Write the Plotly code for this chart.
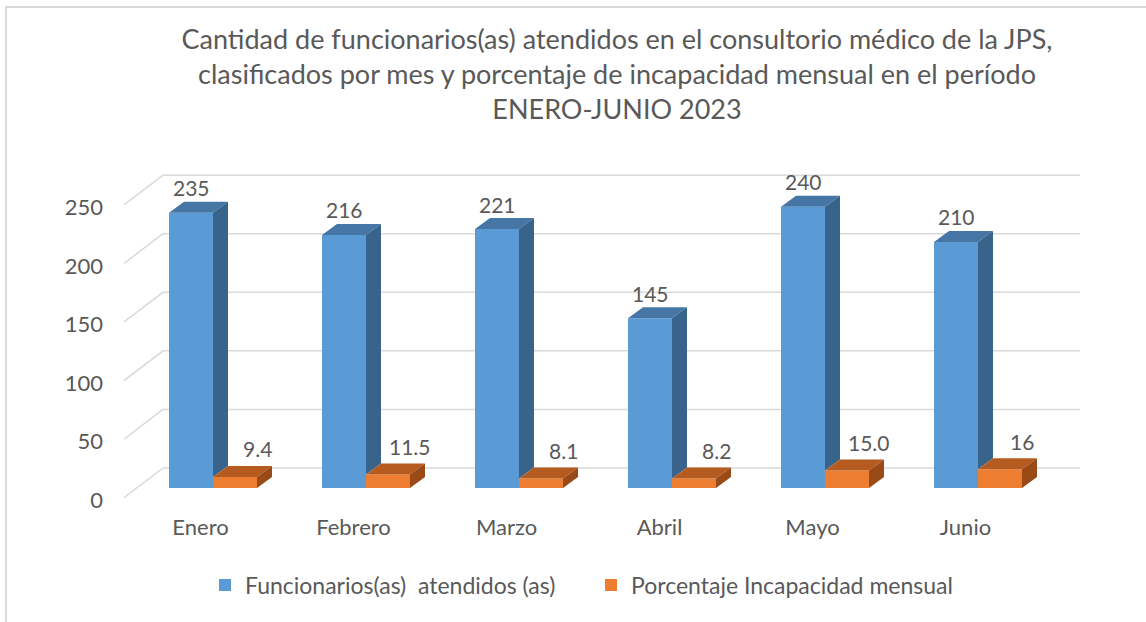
import plotly.graph_objects as go

# ---------------- data ----------------
months = ["Enero", "Febrero", "Marzo", "Abril", "Mayo", "Junio"]
attended = [235, 216, 221, 145, 240, 210]
pct_incap = [9.4, 11.5, 8.1, 8.2, 15.0, 16]
pct_labels = ["9.4", "11.5", "8.1", "8.2", "15.0", "16"]
y_ticks = [0, 50, 100, 150, 200, 250]
series_names = ["Funcionarios(as)\u00a0\u00a0atendidos (as)", "Porcentaje Incapacidad mensual"]
title_text = ("Cantidad de funcionarios(as) atendidos en el consultorio médico de la JPS,<br>"
              "clasificados por mes y porcentaje de incapacidad mensual en el período<br>"
              "ENERO-JUNIO 2023")

# ---------------- styling / geometry ----------------
W, H = 1146, 622
PLOT_BOTTOM = 509
ML, MR, MT, MB = 124, 56, 150, H - PLOT_BOTTOM
plot_w = W - ML - MR
plot_h = H - MT - MB
cat_px = 153.0            # pixels per category
y_px = 1.1715             # pixels per unit
BASE_PX = 488             # pixel row of the bars' base
x_range = [-0.5, -0.5 + plot_w / cat_px]
y_min = -(PLOT_BOTTOM - BASE_PX) / y_px
y_range = [y_min, y_min + plot_h / y_px]

BAR_OFF = 12.5 / cat_px     # bar plane offset from front plane
BW = 44 / cat_px            # bar width
DX = 15 / cat_px            # bar depth (x)
DY = 11 / y_px              # bar depth (y)
BACK_DX = 39 / cat_px
BACK_DY = 20 / y_px
FRONT_DY = 9.7 / y_px
TICK_DY = 2.5 / y_px
X_END = (1080 - ML) / cat_px - 0.5

TXT = "#595959"
GRID = "#d9d9d9"
FONT = "Lato"
BLUE, BLUE_TOP, BLUE_SIDE = "#5b9bd5", "#4676a5", "#38638a"
ORG, ORG_TOP, ORG_SIDE = "#ed7d31", "#b65b20", "#9a4a17"

fig = go.Figure()

idx = list(range(len(months)))
blue_x = [i + BAR_OFF - BW / 2 for i in idx]
org_x = [i + BAR_OFF + BW / 2 for i in idx]

fig.add_trace(go.Bar(x=blue_x, y=attended, width=BW, name=series_names[0],
                     marker=dict(color=BLUE, line=dict(width=0)), hoverinfo="skip"))
fig.add_trace(go.Bar(x=org_x, y=pct_incap, width=BW, name=series_names[1],
                     marker=dict(color=ORG, line=dict(width=0)), hoverinfo="skip"))


def poly(xs, ys, color):
    fig.add_trace(go.Scatter(x=xs + [xs[0]], y=ys + [ys[0]], fill="toself", fillcolor=color,
                             mode="lines", line=dict(width=0, color=color),
                             showlegend=False, hoverinfo="skip"))


for i, b, o in zip(idx, attended, pct_incap):
    c = i + BAR_OFF
    l = c - BW
    r = c
    # blue top
    poly([l, r, r + DX, l + DX], [b, b, b + DY, b + DY], BLUE_TOP)
    # blue side (visible part above the orange bar)
    poly([r, r + DX, r + DX, r], [o, o + DY, b + DY, b], BLUE_SIDE)
    # orange top
    poly([r, r + BW, r + BW + DX, r + DX], [o, o, o + DY, o + DY], ORG_TOP)
    # orange side
    poly([r + BW, r + BW + DX, r + BW + DX, r + BW], [0, DY, o + DY, o], ORG_SIDE)

# gridlines (back wall + floor diagonals)
shapes = []
for v in y_ticks:
    shapes.append(dict(type="line", xref="x", yref="y", layer="below",
                       x0=-0.5 + BACK_DX, y0=v + BACK_DY, x1=X_END, y1=v + BACK_DY,
                       line=dict(color=GRID, width=1.5)))
    shapes.append(dict(type="line", xref="x", yref="y", layer="below",
                       x0=-0.5, y0=v - FRONT_DY, x1=-0.5 + BACK_DX, y1=v + BACK_DY,
                       line=dict(color=GRID, width=1.5)))


def px_to_paper_x(px):
    return (px - ML) / plot_w


def px_to_paper_y(py):
    return (H - MB - py) / plot_h


# chart frame (top and left)
shapes.append(dict(type="line", xref="paper", yref="paper", layer="below",
                   x0=px_to_paper_x(5), y0=px_to_paper_y(7), x1=px_to_paper_x(W + 5), y1=px_to_paper_y(7),
                   line=dict(color=GRID, width=2)))
shapes.append(dict(type="line", xref="paper", yref="paper", layer="below",
                   x0=px_to_paper_x(6), y0=px_to_paper_y(7), x1=px_to_paper_x(6), y1=px_to_paper_y(H + 5),
                   line=dict(color=GRID, width=2)))

annotations = []
for i, b in zip(idx, attended):
    annotations.append(dict(x=i + BAR_OFF - BW / 2, y=b + DY, xref="x", yref="y", text=str(b),
                            showarrow=False, yanchor="middle", yshift=14,
                            font=dict(family=FONT, size=21, color=TXT)))
for i, o, t in zip(idx, pct_incap, pct_labels):
    annotations.append(dict(x=i + BAR_OFF + BW / 2, y=o + DY, xref="x", yref="y", text=t,
                            showarrow=False, yanchor="middle", yshift=17, xshift=22,
                            font=dict(family=FONT, size=21, color=TXT)))

fig.update_layout(
    width=W, height=H,
    margin=dict(l=ML, r=MR, t=MT, b=MB, autoexpand=False),
    paper_bgcolor="white", plot_bgcolor="white",
    barmode="overlay",
    title=dict(text=title_text, x=617 / W, xanchor="center", xref="container",
               y=1 - 49 / H, yanchor="top", yref="container",
               font=dict(family=FONT, size=27, color=TXT)),
    xaxis=dict(range=x_range, tickvals=idx, ticktext=months, showgrid=False, zeroline=False,
               showline=False, ticks="", tickfont=dict(family=FONT, size=22, color=TXT),
               ticklabelstandoff=3, fixedrange=True),
    yaxis=dict(range=y_range, tickvals=[v - FRONT_DY - TICK_DY for v in y_ticks],
               ticktext=[str(v) for v in y_ticks],
               showgrid=False, zeroline=False, showline=False, ticks="",
               tickfont=dict(family=FONT, size=22, color=TXT), ticklabelstandoff=20, fixedrange=True),
    legend=dict(orientation="h", x=px_to_paper_x(205), xanchor="left", entrywidth=341,
                y=px_to_paper_y(585), yanchor="middle",
                font=dict(family=FONT, size=23, color=TXT), itemclick=False),
    shapes=shapes, annotations=annotations,
    showlegend=True,
)

fig.write_html("out.html", config={"displayModeBar": False},
               post_script="document.body.style.margin='0';document.body.style.overflow='hidden';")
